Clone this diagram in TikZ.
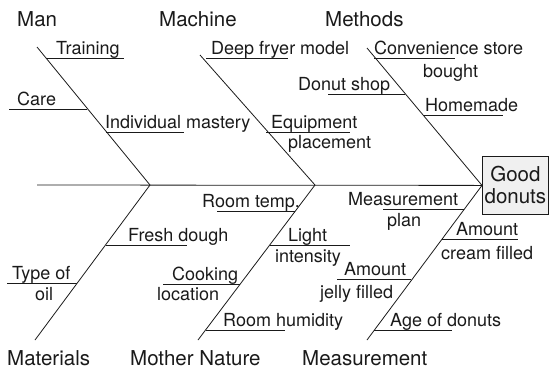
\documentclass[tikz,border=0pt]{standalone}
\usepackage{fontspec}
\setmainfont{TeX Gyre Heros}
\usepackage{xcolor}
\usepackage{tikz}
\usetikzlibrary{positioning}
\definecolor{boxfill}{HTML}{F0F0F0}
\definecolor{ink}{HTML}{1A1A1A}

\begin{document}
\begin{tikzpicture}[x=1pt, y=-1pt, bone/.style={draw=ink,line width=0.8pt}, twig/.style={draw=ink,line width=0.7pt}, cat/.style={anchor=base west,inner sep=0pt,text=ink,font=\fontsize{20.5}{24}\selectfont}, cause/.style={anchor=base west,inner sep=0pt,text=ink,font=\fontsize{18}{21}\selectfont}, effect/.style={draw=ink,fill=boxfill,line width=0.8pt,minimum width=66pt,minimum height=58pt,align=center,inner sep=1pt,text=ink,font=\fontsize{20.5}{22}\selectfont}]
    \useasboundingbox (0,0) rectangle (549,368);
    % head and spine
    \node[effect,anchor=north west] (goal) at (482,156) {Good\\donuts};
    \coordinate (tail) at (37,185);
    \coordinate (j1) at (150,185);
    \coordinate (j2) at (315,185);
    \draw[bone] (tail) -- (goal.west);
    % main bones
    \coordinate (manT)  at (37,47);
    \coordinate (machT) at (200,55);
    \coordinate (methT) at (367,48);
    \coordinate (matB)  at (35,340);
    \coordinate (natB)  at (198,340);
    \coordinate (measB) at (367,340);
    \draw[bone] (manT) -- (j1);
    \draw[bone] (machT) -- (j2);
    \draw[bone] (methT) -- (goal.west);
    \draw[bone] (matB) -- (j1);
    \draw[bone] (natB) -- (j2);
    \draw[bone] (measB) -- (goal.west);
    % categories
    \node[cat] (man)  at (17,26)  {Man};
    \node[cat] (mach) at (159,26) {Machine};
    \node[cat] (meth) at (325,26) {Methods};
    \node[cat] (mat)  at (7,365)   {Materials};
    \node[cat] (nat)  at (130,365) {Mother Nature};
    \node[cat] (meas) at (302,365) {Measurement};
    % twig ends
    \coordinate (tr1) at (46,58);   \coordinate (tr2) at (124,58);
    \coordinate (ca1) at (9,109);   \coordinate (ca2) at (87,109);
    \coordinate (im1) at (106,132); \coordinate (im2) at (184,132);
    \coordinate (df1) at (206,58);  \coordinate (df2) at (288,58);
    \coordinate (ep1) at (266,132); \coordinate (ep2) at (350,132);
    \coordinate (cs1) at (374,58);  \coordinate (cs2) at (455,58);
    \coordinate (ds1) at (328,94);  \coordinate (ds2) at (405,94);
    \coordinate (hm1) at (423,115); \coordinate (hm2) at (503,115);
    \coordinate (rt1) at (217,211); \coordinate (rt2) at (295,211);
    \coordinate (li1) at (270,245); \coordinate (li2) at (350,245);
    \coordinate (cl1) at (163,284); \coordinate (cl2) at (240,284);
    \coordinate (rh1) at (206,330); \coordinate (rh2) at (285,330);
    \coordinate (fd1) at (106,245); \coordinate (fd2) at (187,245);
    \coordinate (to1) at (7,283);   \coordinate (to2) at (77,283);
    \coordinate (mp1) at (383,209); \coordinate (mp2) at (464,209);
    \coordinate (ac1) at (442,239); \coordinate (ac2) at (518,239);
    \coordinate (aj1) at (337,279); \coordinate (aj2) at (411,279);
    \coordinate (ad1) at (374,330); \coordinate (ad2) at (452,330);
    \draw[twig] (tr1) -- (tr2);
    \draw[twig] (ca1) -- (ca2);
    \draw[twig] (im1) -- (im2);
    \draw[twig] (df1) -- (df2);
    \draw[twig] (ep1) -- (ep2);
    \draw[twig] (cs1) -- (cs2);
    \draw[twig] (ds1) -- (ds2);
    \draw[twig] (hm1) -- (hm2);
    \draw[twig] (rt1) -- (rt2);
    \draw[twig] (li1) -- (li2);
    \draw[twig] (cl1) -- (cl2);
    \draw[twig] (rh1) -- (rh2);
    \draw[twig] (fd1) -- (fd2);
    \draw[twig] (to1) -- (to2);
    \draw[twig] (mp1) -- (mp2);
    \draw[twig] (ac1) -- (ac2);
    \draw[twig] (aj1) -- (aj2);
    \draw[twig] (ad1) -- (ad2);
    % causes
    \node[cause] (train) at (56,54)   {Training};
    \node[cause] (care)  at (17,105)  {Care};
    \node[cause] (indiv) at (105,128) {Individual mastery};
    \node[cause] (fryer) at (211,54)  {Deep fryer model};
    \node[cause] (equip) at (271,128) {Equipment};
    \node[cause] (place) at (288,148) {placement};
    \node[cause] (conv)  at (374,54)  {Convenience store};
    \node[cause] (bght)  at (423,77)  {bought};
    \node[cause] (shop)  at (298,90)  {Donut shop};
    \node[cause] (home)  at (425,111) {Homemade};
    \node[cause] (rtemp) at (202,207) {Room temp.};
    \node[cause] (light) at (288,241) {Light};
    \node[cause] (inten) at (275,262) {intensity};
    \node[cause] (cook)  at (172,280) {Cooking};
    \node[cause] (loc)   at (157,300) {location};
    \node[cause] (humid) at (223,326) {Room humidity};
    \node[cause] (fresh) at (128,241) {Fresh dough};
    \node[cause] (type)  at (12,279)  {Type of};
    \node[cause] (oil)   at (35,300)  {oil};
    \node[cause] (mplan) at (348,205) {Measurement};
    \node[cause] (plan)  at (387,226) {plan};
    \node[cause] (amtc)  at (456,235) {Amount};
    \node[cause] (cream) at (441,259) {cream filled};
    \node[cause] (amtj)  at (344,275) {Amount};
    \node[cause] (jelly) at (320,298) {jelly filled};
    \node[cause] (age)   at (390,326) {Age of donuts};
  \end{tikzpicture}
\end{document}
